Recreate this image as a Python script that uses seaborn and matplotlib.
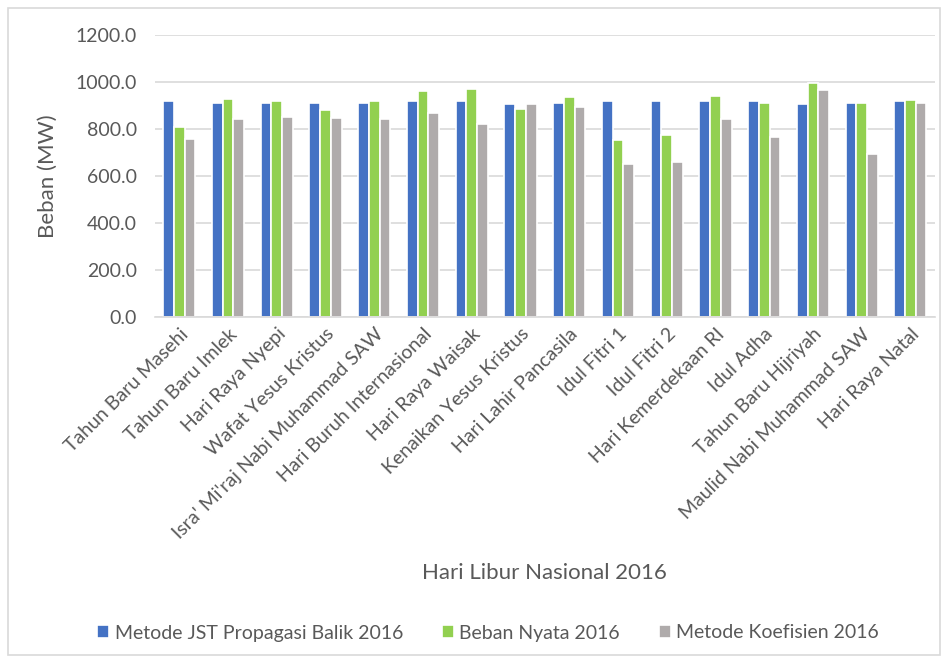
import pandas as pd
import matplotlib
matplotlib.use("Agg")
import matplotlib.pyplot as plt
import seaborn as sns
from matplotlib.patches import Rectangle

# data
holidays = [
    "Tahun Baru Masehi", "Tahun Baru Imlek", "Hari Raya Nyepi", "Wafat Yesus Kristus",
    "Isra' Mi'raj Nabi Muhammad SAW", "Hari Buruh Internasional", "Hari Raya Waisak",
    "Kenaikan Yesus Kristus", "Hari Lahir Pancasila", "Idul Fitri 1", "Idul Fitri 2",
    "Hari Kemerdekaan RI", "Idul Adha", "Tahun Baru Hijriyah",
    "Maulid Nabi Muhammad SAW", "Hari Raya Natal",
]
jst = [917, 912, 912, 912, 912, 917, 917, 907, 912, 917, 917, 917, 917, 905, 912, 917]
nyata = [808, 926, 917, 879, 917, 960, 968, 885, 936, 752, 776, 941, 912, 994, 912, 922]
koef = [757, 842, 852, 848, 842, 866, 820, 905, 893, 649, 658, 842, 767, 964, 695, 909]

series = ["Metode JST Propagasi Balik 2016", "Beban Nyata 2016", "Metode Koefisien 2016"]
colors = ["#4472C4", "#92D050", "#AFABAB"]

df = pd.DataFrame({
    "hari": holidays * 3,
    "beban": jst + nyata + koef,
    "metode": [series[0]] * 16 + [series[1]] * 16 + [series[2]] * 16,
})

sns.set_style("white")
plt.rcParams["font.family"] = ["Lato", "DejaVu Sans"]

fig = plt.figure(figsize=(9.48, 6.59), dpi=100)
ax = fig.add_axes([0.1635, 0.519, 0.8225, 0.428])

sns.barplot(data=df, x="hari", y="beban", hue="metode", hue_order=series,
            palette=colors, width=0.66, ax=ax, edgecolor="white", linewidth=1.2,
            saturation=1)

ax.set_ylim(0, 1200)
ax.set_yticks(range(0, 1201, 200))
ax.set_yticklabels([f"{v:.1f}" for v in range(0, 1201, 200)], fontsize=14, color="#595959")
ax.set_xticks(range(len(holidays)))
ax.set_xticklabels(holidays, rotation=45, ha="right", rotation_mode="anchor",
                   fontsize=14, color="#595959")
ax.tick_params(axis="y", length=0, pad=13)
ax.tick_params(axis="x", length=0, pad=6)
ax.yaxis.grid(True, color="#D9D9D9", linewidth=1.2)
ax.set_axisbelow(True)
for s in ["top", "right", "left"]:
    ax.spines[s].set_visible(False)
ax.spines["bottom"].set_color("#D9D9D9")
ax.spines["bottom"].set_linewidth(1.2)

ax.set_ylabel("Beban (MW)", fontsize=16, color="#595959", va="center")
ax.yaxis.set_label_coords(-0.138, 0.5)
ax.set_xlabel("Hari Libur Nasional 2016", fontsize=16, color="#595959", va="center")
ax.xaxis.set_label_coords(0.5, -0.908)

handles, labels = ax.get_legend_handles_labels()
ax.get_legend().remove()
fig.legend(handles, labels, loc="center", bbox_to_anchor=(0.515, 1 - 633 / 659), ncol=3,
           frameon=False, fontsize=14, handlelength=0.6, handleheight=0.6,
           handletextpad=0.3, columnspacing=2.0, labelcolor="#595959")

fig.patches.append(Rectangle((8 / 948, 4 / 659), 932 / 948, 647 / 659, transform=fig.transFigure,
                             fill=False, edgecolor="#D9D9D9", linewidth=1.2))

fig.savefig("out.png", dpi=100)
